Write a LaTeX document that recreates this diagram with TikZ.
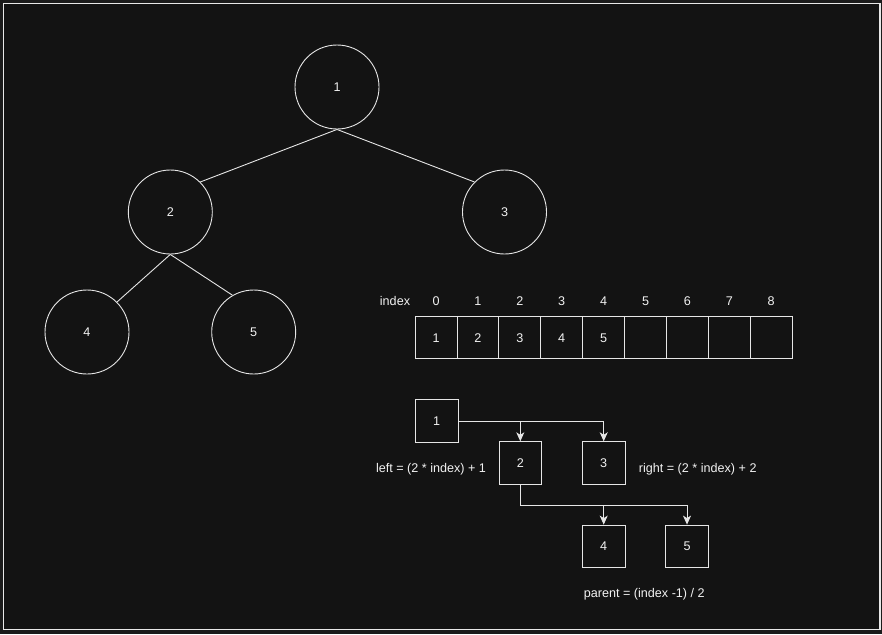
\documentclass[tikz,border=0pt]{standalone}
\usepackage{fontspec}
\setmainfont{Liberation Sans}
\usetikzlibrary{arrows.meta,calc}
\definecolor{bgout}{HTML}{1B1B1B}
\definecolor{bgin}{HTML}{131313}
\definecolor{ln}{HTML}{E6E6E6}
\definecolor{tx}{HTML}{F2F2F2}
\begin{document}
\begin{tikzpicture}[x=1pt,y=-1pt,
  every node/.style={text=tx,font=\fontsize{12.6}{14}\selectfont,text height=9pt,text depth=0pt},
  treenode/.style={circle,draw=ln,line width=0.9pt,minimum size=84pt,inner sep=0pt},
  cell/.style={rectangle,draw=ln,line width=0.9pt,minimum width=41.9pt,minimum height=41.7pt,inner sep=0pt},
  sqnode/.style={rectangle,draw=ln,line width=0.9pt,minimum size=42.5pt,inner sep=0pt},
  edge/.style={draw=ln,line width=0.9pt},
  arr/.style={draw=ln,line width=0.9pt,-{Stealth[length=9pt,width=8pt,inset=2.5pt]}},
  lbl/.style={inner sep=0pt}]
\useasboundingbox (0,0) rectangle (882,634);
\fill[bgout] (0,0) rectangle (882,634);
\draw[fill=bgin,draw=ln!90,line width=1.5pt] (3.5,3.5) rectangle (880,629.5);
% tree
\node[treenode] (c1) at (337,87) {1};
\node[treenode] (c2) at (170.3,212) {2};
\node[treenode] (c3) at (504.5,212) {3};
\node[treenode] (c4) at (87,332) {4};
\node[treenode] (c5) at (253.7,332) {5};
\draw[edge] (c1.south) -- (c2.45);
\draw[edge] (c1.south) -- (c3.135);
\draw[edge] (c2.south) -- (c4.45);
\draw[edge] (c2.south) -- (c5.120);
% array
\node[lbl] (idx) at (395,301) {index};
\foreach \i/\v in {0/1,1/2,2/3,3/4,4/5,5/,6/,7/,8/} {
  \node[cell] (a\i) at ({436+\i*41.9},337.5) {\v};
  \node[lbl] (n\i) at ({436+\i*41.9},301) {\i};
}
% bottom
\node[sqnode] (b1) at (436.7,421) {1};
\node[sqnode] (b2) at (520.3,463) {2};
\node[sqnode] (b3) at (603.7,463) {3};
\node[sqnode] (b4) at (603.7,546.3) {4};
\node[sqnode] (b5) at (687,546.3) {5};
\draw[arr] (b1.east) -| (b2.north);
\draw[arr] (b1.east) -| (b3.north);
\coordinate (j) at ($(b2.south)+(0,21)$);
\draw[arr] (b2.south) -- (j) -| (b4.north);
\draw[arr] (j) -| (b5.north);
\node[lbl] (lf) at (431,468.3) {left = (2 * index) + 1};
\node[lbl] (rt) at (697.7,468.3) {right = (2 * index) + 2};
\node[lbl] (pr) at (644.3,592.7) {parent = (index -1) / 2};
\end{tikzpicture}
\end{document}
